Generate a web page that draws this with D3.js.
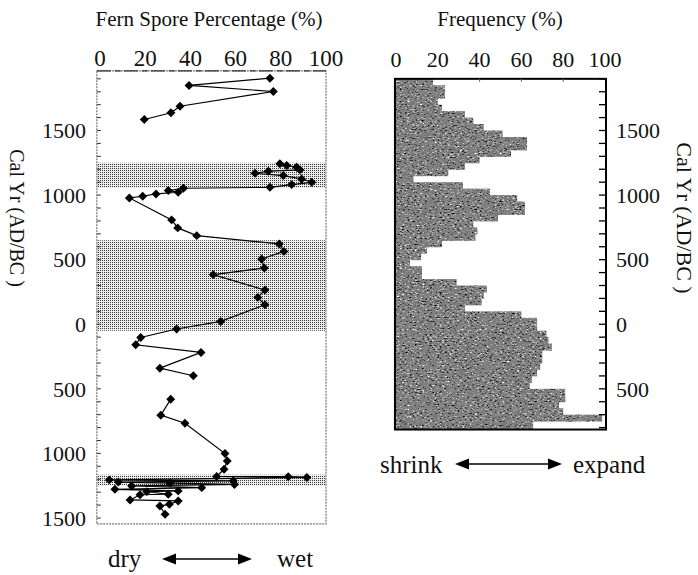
<!DOCTYPE html>
<meta charset="utf-8">
<style>
  body { margin: 0; background: #fff; }
  svg text { font-family: "Liberation Serif", "Times New Roman", Times, "DejaVu Serif", serif; fill: #111; }
</style>
<body>
<div id="chart"></div>
<script src="https://d3js.org/d3.v7.min.js"></script>
<script>

// fern spore percentage, three sampled stretches (gap between them)
var fernYear1 = [1905, 1849, 1802, 1688, 1637, 1585]
var fernPct1  = [75.2, 39.4, 76.7, 35.4, 31.4, 19.6]

var fernYear2 = [1242, 1229, 1216, 1195, 1185, 1169, 1151, 1125, 1099, 1081, 1060, 1053, 1035, 1022, 1009, 991, 978,
                 808, 746, 686, 622, 564, 505, 436, 384, 265, 208, 151, 22, -37, -102, -159, -218, -340, -399]
var fernPct2  = [79.6, 82.6, 87, 88.5, 74.5, 68.6, 81.1, 89.2, 93.7, 84.8, 75.2, 36.9, 30.2, 34.6, 24.8, 18.9, 13,
                 31.7, 34.4, 42.8, 79.3, 81.4, 71.5, 72.7, 50.1, 73, 69.8, 73, 53.4, 33.9, 18, 15.8, 44.7, 26.5, 41.3]

var fernYear3 = [-580, -704, -766, -1001, -1058, -1123, -1178, -1180, -1186, -1205, -1212, -1222, -1230, -1240,
                 -1252, -1265, -1278, -1290, -1296, -1316, -1320, -1360, -1368, -1394, -1407, -1471]
var fernPct3  = [31.3, 26.9, 37.6, 55.3, 56.3, 54.9, 51.6, 83.3, 91.5, 4.1, 59, 8.1, 31, 59.5,
                 14, 45, 6.6, 34.6, 20.7, 30.2, 17.7, 13.3, 34.6, 30.7, 26.5, 28.8]

// wet periods (stippled bands), [young, old]
var bandTop    = [1250, 650, -1165]
var bandBottom = [1055, -50, -1250]

// frequency histogram, 50-yr bins (top year of each bin)
var freqYear = [1900, 1850, 1800, 1750, 1700, 1650, 1600, 1550, 1500, 1450, 1400, 1350, 1300, 1250, 1200, 1150,
                1100, 1050, 1000, 950, 900, 850, 800, 750, 700, 650, 600, 550, 500, 450, 400, 350, 300, 250,
                200, 150, 100, 50, 0, -50, -100, -150, -200, -250, -300, -350, -400, -450, -500, -550, -600,
                -650, -700, -750, -800]
var freqVal  = [17.7, 23.4, 23.4, 20, 22, 33, 37, 42, 51, 62.7, 62.7, 55, 40, 33, 25, 8.4,
                32, 45, 58, 61.7, 61.7, 48.8, 37, 39, 38, 22, 14.8, 12, 6.7, 12.4, 12.4, 29, 43.5, 42,
                41, 33, 60, 67.5, 67.5, 72, 73, 74.6, 70, 70, 69, 67.5, 65, 64, 81, 81, 78,
                80, 98.6, 65.6, 65.6]

var pctTicks  = [0, 20, 40, 60, 80, 100]
var yearTicks = [1500, 1000, 500, 0, -500, -1000, -1500]
var binWidth = 50

var W = 698, H = 575
var serif = "'Liberation Serif', 'Times New Roman', Times, 'DejaVu Serif', serif"

var svg = d3.select("#chart").append("svg")
    .attr("width", W)
    .attr("height", H)
    .attr("font-family", serif)

var defs = svg.append("defs")

// fine stipple for the bands
var stip = defs.append("pattern")
    .attr("id", "stipple")
    .attr("patternUnits", "userSpaceOnUse")
    .attr("width", 2).attr("height", 2)
stip.append("rect").attr("width", 2).attr("height", 2).attr("fill", "#ececec")
stip.append("rect").attr("width", 1).attr("height", 1).attr("fill", "#3a3a3a")

// speckled noise for the histogram
var noise = defs.append("filter")
    .attr("id", "speckle")
    .attr("filterUnits", "userSpaceOnUse")
    .attr("x", 380).attr("y", 60).attr("width", 240).attr("height", 390)
    .attr("color-interpolation-filters", "sRGB")
noise.append("feTurbulence")
    .attr("type", "fractalNoise")
    .attr("baseFrequency", "0.4 0.75")
    .attr("numOctaves", 2)
    .attr("seed", 7)
noise.append("feColorMatrix")
    .attr("type", "matrix")
    .attr("values", "1 0 0 0 0  1 0 0 0 0  1 0 0 0 0  0 0 0 0 1")
var ct = noise.append("feComponentTransfer")
;["feFuncR", "feFuncG", "feFuncB"].forEach(function(f) {
  ct.append(f).attr("type", "discrete").attr("tableValues", "0 0 0.2 0.45 0.5 0.55 0.75 1 1")
})
noise.append("feComposite").attr("in2", "SourceAlpha").attr("operator", "in")

// shared vertical scale (calendar years, AD positive)
var y = d3.scaleLinear().domain([1500, -1500]).range([130.5, 518])

// ---------------- left panel ----------------
var xL = d3.scaleLinear().domain([0, 100]).range([100, 326])
var L = { x0: xL(-1.4), x1: xL(100), y0: y(1962), y1: y(-1545) }

var left = svg.append("g")

left.selectAll(".band")
  .data(bandTop)
  .enter().append("rect")
    .attr("x", L.x0)
    .attr("width", L.x1 - L.x0)
    .attr("y", function(d) { return y(d) })
    .attr("height", function(d, i) { return y(bandBottom[i]) - y(d) })
    .attr("fill", "url(#stipple)")

// frame, dotted like the scan
left.append("rect")
    .attr("x", L.x0).attr("y", L.y0)
    .attr("width", L.x1 - L.x0).attr("height", L.y1 - L.y0)
    .attr("fill", "none")
    .attr("stroke", "#777")
    .attr("stroke-width", 1.2)
    .attr("stroke-dasharray", "2,1")
left.append("line")
    .attr("x1", L.x0).attr("x2", L.x1).attr("y1", L.y0).attr("y2", L.y0)
    .attr("stroke", "#333").attr("stroke-width", 1.3)
    .attr("stroke-dasharray", "14,4,6,3")

// minor ticks on the left edge, every 100 yr
var minorL = d3.range(-1500, 1901, 100)
left.selectAll(".mt")
  .data(minorL)
  .enter().append("line")
    .attr("x1", L.x0).attr("x2", L.x0 + 4)
    .attr("y1", function(d) { return y(d) })
    .attr("y2", function(d) { return y(d) })
    .attr("stroke", "#333").attr("stroke-width", 1)

left.selectAll(".ylab")
  .data(yearTicks)
  .enter().append("text")
    .attr("x", 86)
    .attr("y", function(d) { return y(d) })
    .attr("dy", "0.35em")
    .attr("text-anchor", "end")
    .style("font-size", "22px")
    .text(function(d) { return Math.abs(d) })

left.selectAll(".xlab")
  .data(pctTicks)
  .enter().append("text")
    .attr("x", function(d) { return xL(d) })
    .attr("y", 66)
    .attr("text-anchor", "middle")
    .style("font-size", "23px")
    .text(function(d) { return d })

var line = d3.line()
    .x(function(d) { return xL(d[1]) })
    .y(function(d) { return y(d[0]) })

var segs = [[fernYear1, fernPct1], [fernYear2, fernPct2], [fernYear3, fernPct3]].map(function(s) {
  return s[0].map(function(yr, i) { return [yr, s[1][i]] })
})

left.selectAll(".fern")
  .data(segs)
  .enter().append("path")
    .attr("d", line)
    .attr("fill", "none")
    .attr("stroke", "#000")
    .attr("stroke-width", 1.2)

var diamond = d3.symbol().type(d3.symbolSquare).size(40)
var allPts = [].concat(segs[0], segs[1], segs[2])
left.selectAll(".pt")
  .data(allPts)
  .enter().append("path")
    .attr("d", diamond)
    .attr("transform", function(d) { return "translate(" + xL(d[1]) + "," + y(d[0]) + ") rotate(45)" })
    .attr("fill", "#000")

left.append("text")
    .attr("x", 209).attr("y", 26)
    .attr("text-anchor", "middle")
    .style("font-size", "21px")
    .text("Fern Spore Percentage (%)")

left.append("text")
    .attr("transform", "translate(10,218) rotate(90)")
    .attr("text-anchor", "middle")
    .style("font-size", "20px")
    .text("Cal Yr (AD/BC )")

// ---------------- right panel ----------------
var xR = d3.scaleLinear().domain([0, 100]).range([396, 605])
var R = { x0: xR(-0.5), x1: xR(100) + 1, y0: y(1900), y1: y(-815) }

var right = svg.append("g")

right.append("clipPath").attr("id", "rclip")
  .append("rect")
    .attr("x", R.x0).attr("y", R.y0)
    .attr("width", R.x1 - R.x0).attr("height", R.y1 - R.y0)

right.append("g")
    .attr("clip-path", "url(#rclip)")
  .append("g")
    .attr("filter", "url(#speckle)")
  .selectAll("rect")
  .data(freqYear)
  .enter().append("rect")
    .attr("x", R.x0)
    .attr("y", function(d) { return y(d) })
    .attr("height", function(d) { return y(d - binWidth) - y(d) + 0.5 })
    .attr("width", function(d, i) { return xR(freqVal[i]) - R.x0 })
    .attr("fill", "#000")

right.append("rect")
    .attr("x", R.x0).attr("y", R.y0)
    .attr("width", R.x1 - R.x0).attr("height", R.y1 - R.y0)
    .attr("fill", "none")
    .attr("stroke", "#000")
    .attr("stroke-width", 2)

var minorR = d3.range(-800, 1901, 100)
right.selectAll(".mt")
  .data(minorR)
  .enter().append("line")
    .attr("x1", R.x1 - 7).attr("x2", R.x1)
    .attr("y1", function(d) { return y(d) })
    .attr("y2", function(d) { return y(d) })
    .attr("stroke", "#000").attr("stroke-width", 1.3)

right.selectAll(".tt")
  .data(pctTicks.slice(2, 5))
  .enter().append("line")
    .attr("x1", function(d) { return xR(d) })
    .attr("x2", function(d) { return xR(d) })
    .attr("y1", R.y0).attr("y2", R.y0 + 3)
    .attr("stroke", "#666").attr("stroke-width", 1)

right.selectAll(".ylab")
  .data(yearTicks.slice(0, 5))
  .enter().append("text")
    .attr("x", 616)
    .attr("y", function(d) { return y(d) })
    .attr("dy", "0.35em")
    .style("font-size", "22px")
    .text(function(d) { return Math.abs(d) })

right.selectAll(".xlab")
  .data(pctTicks)
  .enter().append("text")
    .attr("x", function(d) { return xR(d) })
    .attr("y", 67)
    .attr("text-anchor", "middle")
    .style("font-size", "22px")
    .text(function(d) { return d })

right.append("text")
    .attr("x", 500).attr("y", 26)
    .attr("text-anchor", "middle")
    .style("font-size", "21px")
    .text("Frequency (%)")

right.append("text")
    .attr("transform", "translate(677,218) rotate(90)")
    .attr("text-anchor", "middle")
    .style("font-size", "22px")
    .text("Cal Yr (AD/BC )")

// ---------------- arrows ----------------
function arrow(g, x1, x2, yy) {
  g.append("line")
      .attr("x1", x1 + 10).attr("x2", x2 - 10)
      .attr("y1", yy).attr("y2", yy)
      .attr("stroke", "#000").attr("stroke-width", 1.5)
  g.append("path")
      .attr("d", "M" + x1 + "," + yy + "L" + (x1 + 14) + "," + (yy - 5.5) + "L" + (x1 + 14) + "," + (yy + 5.5) + "Z")
  g.append("path")
      .attr("d", "M" + x2 + "," + yy + "L" + (x2 - 14) + "," + (yy - 5.5) + "L" + (x2 - 14) + "," + (yy + 5.5) + "Z")
}

var ann = svg.append("g")
ann.append("text").attr("x", 108).attr("y", 567).style("font-size", "25px").text("dry")
arrow(ann, 162, 252, 559)
ann.append("text").attr("x", 277).attr("y", 567).style("font-size", "25px").text("wet")

ann.append("text").attr("x", 380).attr("y", 473).style("font-size", "25px").text("shrink")
arrow(ann, 455, 562, 464)
ann.append("text").attr("x", 573).attr("y", 473).style("font-size", "25px").text("expand")

</script>
</body>
